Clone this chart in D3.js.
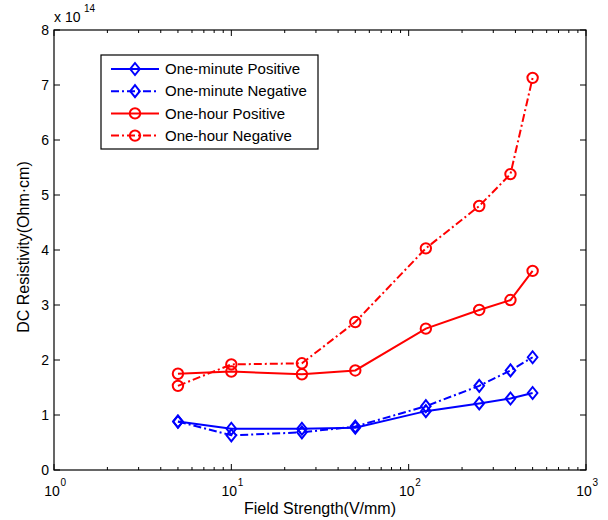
<!DOCTYPE html>
<html><head><meta charset="utf-8">
<script src="https://cdn.jsdelivr.net/npm/d3@7"></script>
<style>body{margin:0;background:#fff}svg{display:block;font-family:Arial,"Liberation Sans",sans-serif}</style>
</head><body>
<svg id="c" width="608" height="520"></svg>
<script>
const fieldStrength = [5, 10, 25, 50, 125, 250, 375, 500];
const oneMinPos = [0.88, 0.75, 0.75, 0.77, 1.07, 1.21, 1.30, 1.40];
const oneMinNeg = [0.88, 0.63, 0.685, 0.79, 1.16, 1.53, 1.81, 2.05];
const oneHourPos = [1.75, 1.79, 1.74, 1.81, 2.57, 2.91, 3.09, 3.62];
const oneHourNeg = [1.53, 1.92, 1.94, 2.69, 4.03, 4.80, 5.38, 7.13];
const seriesNames = ["One-minute Positive", "One-minute Negative", "One-hour Positive", "One-hour Negative"];
const yTicks = [0, 1, 2, 3, 4, 5, 6, 7, 8];
const xTicks = [1, 10, 100, 1000];

const series = [
  {name: seriesNames[0], values: oneMinPos, color: "#0000ff", dash: null, marker: "diamond"},
  {name: seriesNames[1], values: oneMinNeg, color: "#0000ff", dash: "8,3,2,3", marker: "diamond"},
  {name: seriesNames[2], values: oneHourPos, color: "#ff0000", dash: null, marker: "circle"},
  {name: seriesNames[3], values: oneHourNeg, color: "#ff0000", dash: "8,3,2,3", marker: "circle"}
];

const svg = d3.select("#c");
const L = 54, R = 586, T = 30, B = 470;
const x = d3.scaleLog().domain([1, 1000]).range([L, R]);
const y = d3.scaleLinear().domain([0, 8]).range([B, T]);

// frame
svg.append("rect").attr("x", L).attr("y", T).attr("width", R - L).attr("height", B - T)
  .attr("fill", "#fff").attr("stroke", "#000").attr("stroke-width", 1.2);

// minor x ticks
const minor = [];
for (let d = 1; d < 1000; d *= 10) for (let k = 2; k <= 9; k++) minor.push(d * k);
const tk = svg.append("g").attr("stroke", "#000").attr("stroke-width", 1);
minor.forEach(v => {
  tk.append("line").attr("x1", x(v)).attr("x2", x(v)).attr("y1", B).attr("y2", B - 3);
  tk.append("line").attr("x1", x(v)).attr("x2", x(v)).attr("y1", T).attr("y2", T + 3);
});
xTicks.forEach(v => {
  tk.append("line").attr("x1", x(v)).attr("x2", x(v)).attr("y1", B).attr("y2", B - 6);
  tk.append("line").attr("x1", x(v)).attr("x2", x(v)).attr("y1", T).attr("y2", T + 6);
});
yTicks.forEach(v => {
  tk.append("line").attr("x1", L).attr("x2", L + 6).attr("y1", y(v)).attr("y2", y(v));
  tk.append("line").attr("x1", R).attr("x2", R - 6).attr("y1", y(v)).attr("y2", y(v));
});

// y tick labels
svg.append("g").selectAll("text").data(yTicks).join("text")
  .attr("x", L - 5).attr("y", d => y(d)).attr("dy", "0.35em")
  .attr("text-anchor", "end").attr("font-size", 14).text(d => d);

// x tick labels 10^n
xTicks.forEach(v => {
  const e = Math.round(Math.log10(v));
  svg.append("text").attr("x", x(v) - 2).attr("y", 496).attr("text-anchor", "middle").attr("font-size", 14).text("10");
  svg.append("text").attr("x", x(v) + 6.5).attr("y", 486).attr("font-size", 10).text(e);
});

// exponent label
svg.append("text").attr("x", 54).attr("y", 22).attr("font-size", 14).text("x 10");
svg.append("text").attr("x", 84).attr("y", 12).attr("font-size", 10).text("14");

// axis titles
svg.append("text").attr("x", (L + R) / 2).attr("y", 514).attr("text-anchor", "middle")
  .attr("font-size", 16).text("Field Strength(V/mm)");
svg.append("text").attr("transform", `translate(29,${(T + B) / 2 - 3}) rotate(-90)`)
  .attr("text-anchor", "middle").attr("font-size", 16).text("DC Resistivity(Ohm·cm)");

function drawMarker(g, type, cx, cy, color) {
  if (type === "circle") {
    g.append("circle").attr("cx", cx).attr("cy", cy).attr("r", 5.2)
      .attr("fill", "none").attr("stroke", color).attr("stroke-width", 2);
  } else {
    const s = 6;
    g.append("path").attr("d", `M${cx},${cy - s}L${cx + s * 0.8},${cy}L${cx},${cy + s}L${cx - s * 0.8},${cy}Z`)
      .attr("fill", "none").attr("stroke", color).attr("stroke-width", 2);
  }
}

const line = d3.line().x((d, i) => x(fieldStrength[i])).y(d => y(d));
const plot = svg.append("g");
series.forEach(s => {
  plot.append("path").attr("d", line(s.values)).attr("fill", "none")
    .attr("stroke", s.color).attr("stroke-width", 2).attr("stroke-dasharray", s.dash);
  s.values.forEach((v, i) => drawMarker(plot, s.marker, x(fieldStrength[i]), y(v), s.color));
});

// legend
const lg = svg.append("g");
lg.append("rect").attr("x", 101).attr("y", 55).attr("width", 217).attr("height", 94)
  .attr("fill", "#fff").attr("stroke", "#000").attr("stroke-width", 1.2);
series.forEach((s, i) => {
  const yy = 69 + i * 22.2;
  lg.append("line").attr("x1", 111).attr("x2", 159).attr("y1", yy).attr("y2", yy)
    .attr("stroke", s.color).attr("stroke-width", 2).attr("stroke-dasharray", s.dash);
  drawMarker(lg, s.marker, 135, yy, s.color);
  lg.append("text").attr("x", 165).attr("y", yy).attr("dy", "0.35em").attr("font-size", 15).text(s.name);
});
</script>
</body></html>
